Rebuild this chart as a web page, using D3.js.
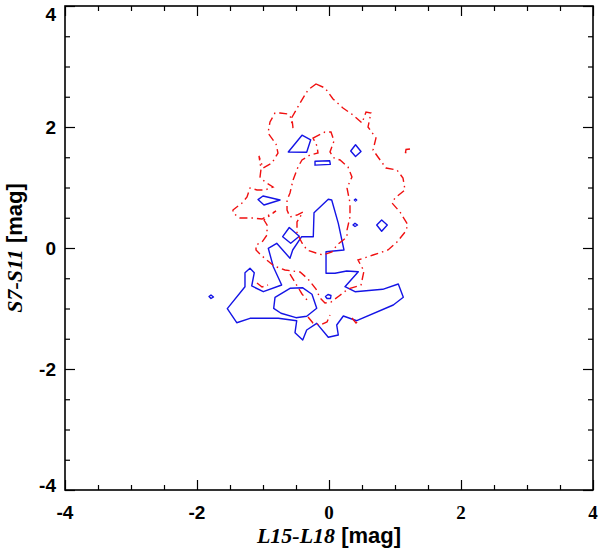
<!DOCTYPE html>
<html>
<head>
<meta charset="utf-8">
<script src="https://cdn.jsdelivr.net/npm/d3@7"></script>
<style>
  html, body { margin: 0; padding: 0; background: #fff; }
  svg { display: block; }
</style>
</head>
<body>
<svg id="chart" width="600" height="549"></svg>
<script>
// ---------------- data ----------------
const xDomain = [-4, 4];
const yDomain = [-4, 4];
const majorTicks = [-4, -2, 0, 2, 4];
const minorTicks = [-3.5, -3, -2.5, -1.5, -1, -0.5, 0.5, 1, 1.5, 2.5, 3, 3.5];
const xTickLabels = ["-4", "-2", "0", "2", "4"];
const yTickLabels = ["-4", "-2", "0", "2", "4"];
const xTitleItalic = "L15-L18";
const yTitleItalic = "S7-S11";
const titleUnit = " [mag]";

// blue (solid) contours, [x, y] in mag
const blueMain = [[-0.011,0.805],[0.041,0.793],[0.141,0.408],[0.227,-0.033],[-0.045,-0.061],[-0.045,-0.418],[0.091,-0.418],[0.268,-0.380],[0.444,-0.392],[0.242,-0.640],[0.394,-0.722],[0.814,-0.683],[1.050,-0.595],[1.126,-0.815],[0.974,-0.942],[0.420,-1.202],[0.217,-1.124],[0.117,-1.273],[0.141,-1.438],[-0.011,-1.476],[-0.186,-1.245],[-0.338,-1.355],[-0.398,-1.521],[-0.515,-1.400],[-0.489,-1.202],[-0.768,-1.162],[-1.197,-1.162],[-1.398,-1.235],[-1.541,-1.003],[-1.273,-0.640],[-1.273,-0.408],[-1.197,-0.336],[-1.132,-0.408],[-1.171,-0.628],[-0.995,-0.722],[-0.717,-0.612],[-0.844,-0.309],[-0.920,-0.005],[-0.792,0.078],[-0.591,-0.170],[-0.550,-0.033],[-0.414,0.187],[-0.238,0.187],[-0.227,0.583]];
const blueInner = [[-0.818,-0.815],[-0.591,-0.666],[-0.402,-0.656],[-0.258,-0.765],[-0.186,-0.997],[-0.338,-1.129],[-0.500,-1.152],[-0.727,-1.079],[-0.838,-0.997]];
const blueDiamondA = [[-0.702,0.187],[-0.602,0.339],[-0.450,0.195],[-0.580,0.078]];
const blueQuad = [[-1.076,0.800],[-1.000,0.860],[-0.742,0.793],[-0.985,0.711]];
const blueTop = [[-0.617,1.587],[-0.409,1.864],[-0.277,1.788],[-0.338,1.582]];
const blueThin = [[-0.212,1.433],[0.011,1.441],[0.020,1.383],[-0.212,1.369]];
const blueDiamondB = [[0.402,1.706],[0.485,1.595],[0.402,1.512],[0.329,1.603]];
const blueDot = [[0.384,0.793],[0.402,0.810],[0.420,0.793],[0.402,0.777]];
const blueSmall = [[0.364,0.380],[0.394,0.408],[0.432,0.380],[0.394,0.355]];
const blueDiamondC = [[0.798,0.463],[0.883,0.380],[0.798,0.276],[0.723,0.380]];
const blueLeft = [[-1.818,-0.802],[-1.788,-0.777],[-1.750,-0.810],[-1.788,-0.835]];
const blueLoop = [[-0.053,-0.802],[-0.015,-0.769],[0.030,-0.785],[0.023,-0.835],[-0.030,-0.835]];

// red (dash-dot) contours
const redOuter = [[-0.197,2.711],[-0.061,2.645],[0.061,2.463],[0.212,2.314],[0.364,2.198],[0.500,2.066],[0.561,2.248],[0.636,2.231],[0.591,2.000],[0.712,1.818],[0.667,1.620],[0.742,1.504],[0.864,1.322],[1.030,1.289],[1.121,1.157],[1.152,0.959],[1.000,0.826],[0.955,0.744],[1.076,0.595],[1.197,0.380],[1.152,0.264],[1.030,0.099],[0.894,-0.033],[0.667,-0.116],[0.439,-0.198],[0.530,-0.380],[0.485,-0.612],[0.288,-0.678],[0.152,-0.793],[0.030,-0.893],[-0.061,-0.909],[-0.136,-0.826],[-0.197,-0.678],[-0.318,-0.512],[-0.439,-0.397],[-0.667,-0.364],[-0.833,-0.298],[-1.015,-0.132],[-1.106,-0.033],[-1.106,0.050],[-1.015,0.099],[-0.939,0.215],[-0.939,0.380],[-0.985,0.463],[-0.803,0.612],[-1.015,0.479],[-1.152,0.496],[-1.348,0.496],[-1.455,0.579],[-1.455,0.628],[-1.318,0.744],[-1.242,0.843],[-1.197,0.992],[-1.091,0.959],[-0.970,0.959],[-0.848,1.008],[-0.970,1.091],[-1.045,1.174],[-1.030,1.306],[-1.061,1.521],[-1.000,1.322],[-0.864,1.405],[-0.773,1.570],[-0.803,1.719],[-0.924,1.901],[-0.894,2.083],[-0.818,2.231],[-0.742,2.231],[-0.621,2.215],[-0.561,2.132],[-0.545,1.983],[-0.576,2.132],[-0.439,2.397],[-0.318,2.612]];
const redInner = [[-0.242,1.818],[-0.061,1.917],[0.030,1.917],[0.076,1.769],[0.015,1.587],[0.076,1.488],[0.167,1.455],[0.288,1.339],[0.348,1.174],[0.273,0.992],[0.318,0.744],[0.318,0.512],[0.273,0.298],[0.273,0.182],[0.121,0.050],[0.045,-0.066],[-0.091,-0.116],[-0.197,-0.083],[-0.333,-0.033],[-0.409,0.083],[-0.485,0.248],[-0.485,0.430],[-0.394,0.595],[-0.485,0.545],[-0.591,0.512],[-0.636,0.628],[-0.636,0.793],[-0.591,0.909],[-0.545,1.124],[-0.470,1.339],[-0.409,1.455],[-0.288,1.537],[-0.167,1.570],[-0.182,1.686]];
const redHook = [[1.227,1.636],[1.167,1.628],[1.159,1.579],[1.212,1.554]];
const redLowA = [[-0.318,-1.140],[-0.242,-1.240],[-0.136,-1.273],[-0.030,-1.223],[0.015,-1.107]];
const redLowB = [[-0.591,-0.430],[-0.500,-0.595],[-0.409,-0.760],[-0.333,-0.860]];
const redLowC = [[-1.091,-0.579],[-1.015,-0.645],[-0.924,-0.612]];
const redLowD = [[0.348,-1.157],[0.409,-1.240],[0.455,-1.190]];

const blueClosed = [blueMain, blueInner, blueDiamondA, blueQuad, blueTop, blueThin, blueDiamondB, blueDot, blueSmall, blueDiamondC, blueLeft, blueLoop];
const redClosed = [redOuter, redInner];
const redOpen = [redHook, redLowA, redLowB, redLowC, redLowD];

// ---------------- layout ----------------
const L = 65, R = 593, T = 6, B = 490;
const svg = d3.select("#chart");
const x = d3.scaleLinear().domain(xDomain).range([L, R]);
const y = d3.scaleLinear().domain(yDomain).range([B, T]);

const lineOpen = d3.line().x(d => x(d[0])).y(d => y(d[1]));
const lineClosed = d3.line().x(d => x(d[0])).y(d => y(d[1])).curve(d3.curveLinearClosed);

// contours
const gc = svg.append("g");
blueClosed.forEach(c => gc.append("path").attr("d", lineClosed(c))
  .attr("fill", "none").attr("stroke", "#1414e6").attr("stroke-width", 1.4).attr("stroke-linejoin", "round"));
redClosed.forEach(c => gc.append("path").attr("d", lineClosed(c))
  .attr("fill", "none").attr("stroke", "#f01010").attr("stroke-width", 1.4)
  .attr("stroke-dasharray", "8,4,1.5,4"));
redOpen.forEach(c => gc.append("path").attr("d", lineOpen(c))
  .attr("fill", "none").attr("stroke", "#f01010").attr("stroke-width", 1.4)
  .attr("stroke-dasharray", "8,4,1.5,4"));

// axes: ticks on all four sides, pointing inward
function addAxis(axisFn, scale, transform, values, size) {
  const g = svg.append("g").attr("transform", transform)
    .call(axisFn(scale).tickValues(values).tickSize(-size).tickFormat(""));
  g.select(".domain").remove();
  g.selectAll(".tick line").attr("stroke", "#000").attr("stroke-width", 1.2);
}
[[majorTicks, 10], [minorTicks, 5]].forEach(([vals, sz]) => {
  addAxis(d3.axisBottom, x, `translate(0,${B})`, vals, sz);
  addAxis(d3.axisTop, x, `translate(0,${T})`, vals, sz);
  addAxis(d3.axisLeft, y, `translate(${L},0)`, vals, sz);
  addAxis(d3.axisRight, y, `translate(${R},0)`, vals, sz);
});
svg.append("rect").attr("x", L).attr("y", T).attr("width", R - L).attr("height", B - T)
  .attr("fill", "none").attr("stroke", "#000").attr("stroke-width", 1.6);

const sans = "'Liberation Sans', Arial, Helvetica, sans-serif";
const serif = "'Liberation Serif', 'Times New Roman', serif";

// x tick labels
svg.append("g").selectAll("text").data(majorTicks).join("text")
  .attr("x", d => x(d)).attr("y", 519)
  .attr("text-anchor", "middle")
  .attr("font-family", d => d < 0 ? sans : serif)
  .attr("font-weight", "bold").attr("font-size", 19)
  .text((d, i) => xTickLabels[i]);

// y tick labels
svg.append("g").selectAll("text").data(majorTicks).join("text")
  .attr("x", 56).attr("y", d => Math.min(Math.max(y(d), 14), 485))
  .attr("dy", "0.35em")
  .attr("text-anchor", "end")
  .attr("font-family", sans).attr("font-weight", "bold").attr("font-size", 19)
  .text((d, i) => yTickLabels[i]);

// x title
const xt = svg.append("text").attr("x", x(0)).attr("y", 543).attr("text-anchor", "middle")
  .attr("font-size", 22).attr("font-weight", "bold");
xt.append("tspan").attr("font-family", serif).attr("font-style", "italic").text(xTitleItalic);
xt.append("tspan").attr("font-family", sans).text(titleUnit);

// y title
const yt = svg.append("text").attr("transform", `translate(22,${y(0)}) rotate(-90)`)
  .attr("text-anchor", "middle").attr("font-size", 22).attr("font-weight", "bold");
yt.append("tspan").attr("font-family", serif).attr("font-style", "italic").text(yTitleItalic);
yt.append("tspan").attr("font-family", sans).text(titleUnit);
</script>
</body>
</html>
